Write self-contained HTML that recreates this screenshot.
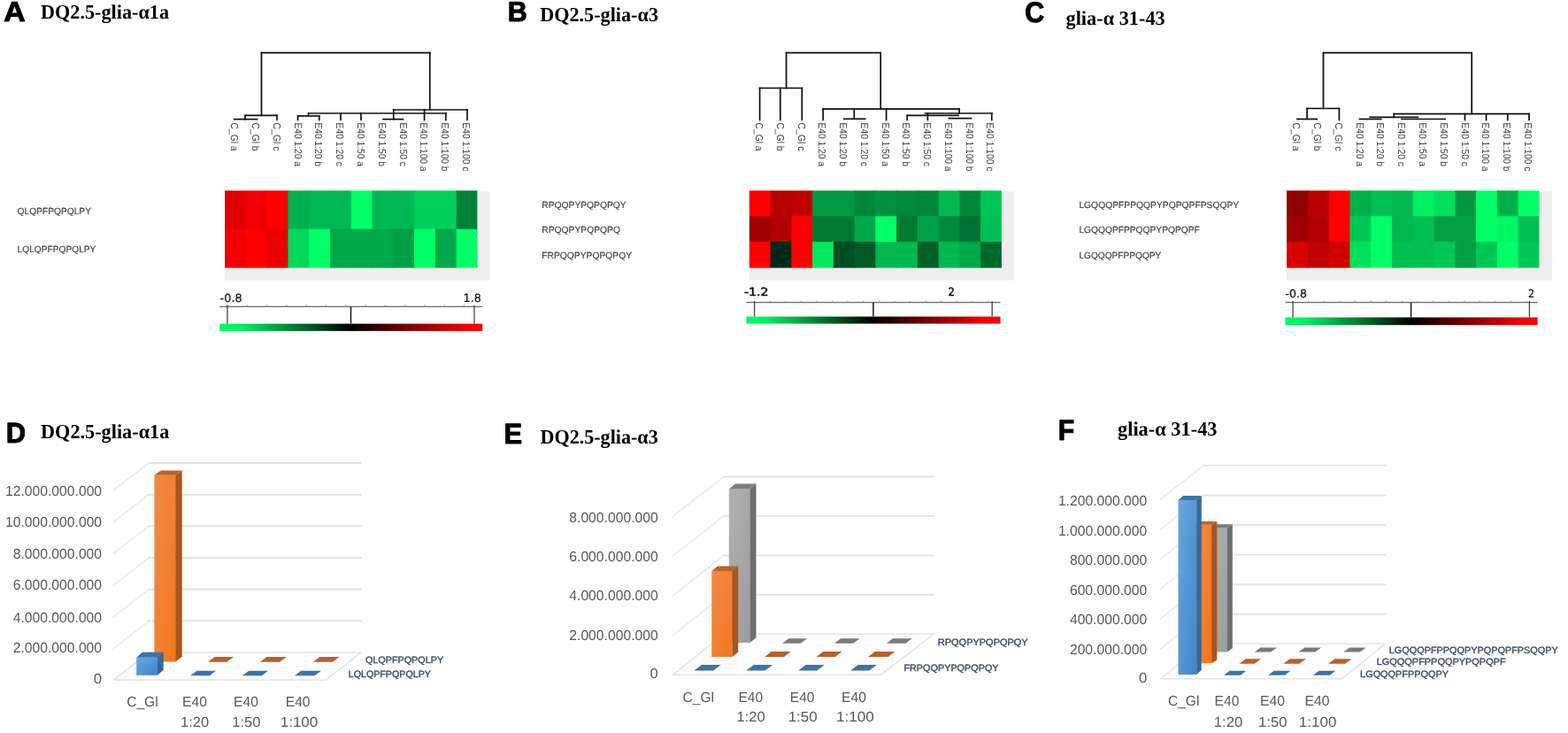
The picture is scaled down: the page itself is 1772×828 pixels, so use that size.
<!DOCTYPE html>
<html lang="en">
<head>
<meta charset="utf-8">
<title>Figure</title>
<style>
html,body{margin:0;padding:0;background:#fff;}
body{width:1772px;height:828px;overflow:hidden;}
svg{display:block;}
</style>
</head>
<body>
<svg width="1772" height="828" viewBox="0 0 1772 828" text-rendering="geometricPrecision">
<defs>
<linearGradient id="gr" x1="0" y1="0" x2="1" y2="0"><stop offset="0" stop-color="#00ff66"/><stop offset="0.08" stop-color="#00f060"/><stop offset="0.5" stop-color="#000"/><stop offset="0.93" stop-color="#f00000"/><stop offset="1" stop-color="#ff0000"/></linearGradient>
<linearGradient id="gb" x1="0" y1="0" x2="1" y2="1"><stop offset="0" stop-color="#6aa6dc"/><stop offset="1" stop-color="#3f86cc"/></linearGradient>
<linearGradient id="go" x1="0" y1="0" x2="1" y2="1"><stop offset="0" stop-color="#f08a4a"/><stop offset="1" stop-color="#f4761c"/></linearGradient>
<linearGradient id="gg" x1="0" y1="0" x2="1" y2="1"><stop offset="0" stop-color="#b2b2b2"/><stop offset="1" stop-color="#9a9c9e"/></linearGradient>
<filter id="soft" x="0" y="0" width="1772" height="828" filterUnits="userSpaceOnUse"><feGaussianBlur stdDeviation="0.65"/></filter>
</defs>
<rect width="1772" height="828" fill="#fff"/>
<g filter="url(#soft)">
<text transform="matrix(0.3376 0 0 0.3171 4.23 24.03)" font-family='"Liberation Sans", sans-serif' font-size="100" font-weight="bold" fill="#000" stroke="#000" stroke-width="3" stroke-linejoin="round">A</text>
<text transform="matrix(0.3055 0 0 0.3171 573.76 24.39)" font-family='"Liberation Sans", sans-serif' font-size="100" font-weight="bold" fill="#000" stroke="#000" stroke-width="3" stroke-linejoin="round">B</text>
<text transform="matrix(0.3044 0 0 0.3271 1158.24 24.63)" font-family='"Liberation Sans", sans-serif' font-size="100" font-weight="bold" fill="#000" stroke="#000" stroke-width="3" stroke-linejoin="round">C</text>
<text transform="matrix(0.3098 0 0 0.322 6.81 500.28)" font-family='"Liberation Sans", sans-serif' font-size="100" font-weight="bold" fill="#000" stroke="#000" stroke-width="3" stroke-linejoin="round">D</text>
<text transform="matrix(0.3095 0 0 0.322 569.38 500.64)" font-family='"Liberation Sans", sans-serif' font-size="100" font-weight="bold" fill="#000" stroke="#000" stroke-width="3" stroke-linejoin="round">E</text>
<text transform="matrix(0.3025 0 0 0.3286 1195.85 496.75)" font-family='"Liberation Sans", sans-serif' font-size="100" font-weight="bold" fill="#000" stroke="#000" stroke-width="3" stroke-linejoin="round">F</text>
<text x="46" y="21.3" font-family='"Liberation Serif", serif' font-size="22.8" fill="#000" font-weight="bold" textLength="145" lengthAdjust="spacingAndGlyphs">DQ2.5-glia-α1a</text>
<text x="610.2" y="24.0" font-family='"Liberation Serif", serif' font-size="22.8" fill="#000" font-weight="bold" textLength="133.8" lengthAdjust="spacingAndGlyphs">DQ2.5-glia-α3</text>
<text x="1204.5" y="28.1" font-family='"Liberation Serif", serif' font-size="22.8" fill="#000" font-weight="bold" textLength="112.2" lengthAdjust="spacingAndGlyphs">glia-α 31-43</text>
<text x="46" y="495.2" font-family='"Liberation Serif", serif' font-size="22.8" fill="#000" font-weight="bold" textLength="145.3" lengthAdjust="spacingAndGlyphs">DQ2.5-glia-α1a</text>
<text x="610.5" y="501.0" font-family='"Liberation Serif", serif' font-size="22.8" fill="#000" font-weight="bold" textLength="133.2" lengthAdjust="spacingAndGlyphs">DQ2.5-glia-α3</text>
<text x="1263" y="492.2" font-family='"Liberation Serif", serif' font-size="22.8" fill="#000" font-weight="bold" textLength="112.5" lengthAdjust="spacingAndGlyphs">glia-α 31-43</text>
<rect x="254.1" y="216.3" width="299.8" height="100.2" fill="#eeeeee"/>
<rect x="254.10" y="215.3" width="24.77" height="44.40" fill="#e00000"/>
<rect x="277.88" y="215.3" width="24.77" height="44.40" fill="#f00000"/>
<rect x="301.65" y="215.3" width="24.77" height="44.40" fill="#ff0000"/>
<rect x="325.42" y="215.3" width="24.77" height="44.40" fill="#00b050"/>
<rect x="349.20" y="215.3" width="24.77" height="44.40" fill="#00b852"/>
<rect x="372.97" y="215.3" width="24.77" height="44.40" fill="#00b852"/>
<rect x="396.75" y="215.3" width="24.77" height="44.40" fill="#00ff66"/>
<rect x="420.52" y="215.3" width="24.77" height="44.40" fill="#00b852"/>
<rect x="444.30" y="215.3" width="24.77" height="44.40" fill="#00b852"/>
<rect x="468.07" y="215.3" width="24.77" height="44.40" fill="#00d05a"/>
<rect x="491.85" y="215.3" width="24.77" height="44.40" fill="#00d05a"/>
<rect x="515.62" y="215.3" width="23.77" height="44.40" fill="#008038"/>
<rect x="254.10" y="258.7" width="24.77" height="43.90" fill="#f00000"/>
<rect x="277.88" y="258.7" width="24.77" height="43.90" fill="#ff0000"/>
<rect x="301.65" y="258.7" width="24.77" height="43.90" fill="#e80000"/>
<rect x="325.42" y="258.7" width="24.77" height="43.90" fill="#00d85c"/>
<rect x="349.20" y="258.7" width="24.77" height="43.90" fill="#00ff66"/>
<rect x="372.97" y="258.7" width="24.77" height="43.90" fill="#00a84a"/>
<rect x="396.75" y="258.7" width="24.77" height="43.90" fill="#00a84a"/>
<rect x="420.52" y="258.7" width="24.77" height="43.90" fill="#00a84a"/>
<rect x="444.30" y="258.7" width="24.77" height="43.90" fill="#00a046"/>
<rect x="468.07" y="258.7" width="24.77" height="43.90" fill="#00ff66"/>
<rect x="491.85" y="258.7" width="24.77" height="43.90" fill="#00a84a"/>
<rect x="515.62" y="258.7" width="23.77" height="43.90" fill="#00ff66"/>
<text x="19.6" y="241.7" font-family='"Liberation Sans", sans-serif' font-size="10.4" fill="#3a3a3a" textLength="83.4" lengthAdjust="spacingAndGlyphs" stroke="#3a3a3a" stroke-width="0.15">QLQPFPQPQLPY</text>
<text x="19.6" y="285.4" font-family='"Liberation Sans", sans-serif' font-size="10.4" fill="#3a3a3a" textLength="88.8" lengthAdjust="spacingAndGlyphs" stroke="#3a3a3a" stroke-width="0.15">LQLQPFPQPQLPY</text>
<text transform="translate(261.3,138.5) rotate(90)" font-family='"Liberation Sans", sans-serif' font-size="11.6" fill="#444" textLength="32" lengthAdjust="spacingAndGlyphs">C_Gl a</text>
<text transform="translate(285.1,138.5) rotate(90)" font-family='"Liberation Sans", sans-serif' font-size="11.6" fill="#444" textLength="32" lengthAdjust="spacingAndGlyphs">C_Gl b</text>
<text transform="translate(308.8,138.5) rotate(90)" font-family='"Liberation Sans", sans-serif' font-size="11.6" fill="#444" textLength="32" lengthAdjust="spacingAndGlyphs">C_Gl c</text>
<text transform="translate(332.6,138.5) rotate(90)" font-family='"Liberation Sans", sans-serif' font-size="11.6" fill="#444" textLength="49.5" lengthAdjust="spacingAndGlyphs">E40 1:20 a</text>
<text transform="translate(356.4,138.5) rotate(90)" font-family='"Liberation Sans", sans-serif' font-size="11.6" fill="#444" textLength="49.5" lengthAdjust="spacingAndGlyphs">E40 1:20 b</text>
<text transform="translate(380.2,138.5) rotate(90)" font-family='"Liberation Sans", sans-serif' font-size="11.6" fill="#444" textLength="49.5" lengthAdjust="spacingAndGlyphs">E40 1:20 c</text>
<text transform="translate(403.9,138.5) rotate(90)" font-family='"Liberation Sans", sans-serif' font-size="11.6" fill="#444" textLength="49.5" lengthAdjust="spacingAndGlyphs">E40 1:50 a</text>
<text transform="translate(427.7,138.5) rotate(90)" font-family='"Liberation Sans", sans-serif' font-size="11.6" fill="#444" textLength="49.5" lengthAdjust="spacingAndGlyphs">E40 1:50 b</text>
<text transform="translate(451.5,138.5) rotate(90)" font-family='"Liberation Sans", sans-serif' font-size="11.6" fill="#444" textLength="49.5" lengthAdjust="spacingAndGlyphs">E40 1:50 c</text>
<text transform="translate(475.3,138.5) rotate(90)" font-family='"Liberation Sans", sans-serif' font-size="11.6" fill="#444" textLength="55" lengthAdjust="spacingAndGlyphs">E40 1:100 a</text>
<text transform="translate(499.0,138.5) rotate(90)" font-family='"Liberation Sans", sans-serif' font-size="11.6" fill="#444" textLength="55" lengthAdjust="spacingAndGlyphs">E40 1:100 b</text>
<text transform="translate(522.8,138.5) rotate(90)" font-family='"Liberation Sans", sans-serif' font-size="11.6" fill="#444" textLength="55" lengthAdjust="spacingAndGlyphs">E40 1:100 c</text>
<g stroke="#111" stroke-width="1.7" stroke-linecap="square">
<line x1="295.5" y1="59.7" x2="485.8" y2="59.7"/>
<line x1="295.5" y1="59.7" x2="295.5" y2="130.4"/>
<line x1="485.8" y1="59.7" x2="485.8" y2="124"/>
<line x1="277" y1="130.4" x2="313" y2="130.4"/>
<line x1="313" y1="130.4" x2="313" y2="135.5"/>
<line x1="277" y1="130.4" x2="277" y2="134.7"/>
<line x1="264.7" y1="134.7" x2="290.6" y2="134.7"/>
<line x1="444.8" y1="124" x2="528" y2="124"/>
<line x1="528" y1="124" x2="528" y2="135.5"/>
<line x1="444.8" y1="124" x2="444.8" y2="134.7"/>
<line x1="433" y1="134.7" x2="455.5" y2="134.7"/>
<line x1="348.6" y1="128" x2="503.8" y2="128"/>
<line x1="385" y1="128" x2="385" y2="135.5"/>
<line x1="408" y1="128" x2="408" y2="135.5"/>
<line x1="479.6" y1="124" x2="479.6" y2="135.5"/>
<line x1="503.8" y1="128" x2="503.8" y2="135.5"/>
<line x1="348.6" y1="128" x2="348.6" y2="131"/>
<line x1="336.6" y1="131" x2="360.8" y2="131"/>
<line x1="336.6" y1="131" x2="336.6" y2="135.5"/>
<line x1="360.8" y1="131" x2="360.8" y2="135.5"/>
</g>
<rect x="248.2" y="365.7" width="297.0" height="8.2" fill="url(#gr)"/>
<line x1="248.2" y1="346.3" x2="545.2" y2="346.3" stroke="#6a6a6a" stroke-width="1.2"/>
<line x1="257" y1="344.3" x2="257" y2="346.3" stroke="#8a8a8a" stroke-width="0.9"/>
<line x1="279.3" y1="344.3" x2="279.3" y2="346.3" stroke="#8a8a8a" stroke-width="0.9"/>
<line x1="301.6" y1="344.3" x2="301.6" y2="346.3" stroke="#8a8a8a" stroke-width="0.9"/>
<line x1="323.9" y1="344.3" x2="323.9" y2="346.3" stroke="#8a8a8a" stroke-width="0.9"/>
<line x1="346.2" y1="344.3" x2="346.2" y2="346.3" stroke="#8a8a8a" stroke-width="0.9"/>
<line x1="368.5" y1="344.3" x2="368.5" y2="346.3" stroke="#8a8a8a" stroke-width="0.9"/>
<line x1="390.8" y1="344.3" x2="390.8" y2="346.3" stroke="#8a8a8a" stroke-width="0.9"/>
<line x1="413.1" y1="344.3" x2="413.1" y2="346.3" stroke="#8a8a8a" stroke-width="0.9"/>
<line x1="435.4" y1="344.3" x2="435.4" y2="346.3" stroke="#8a8a8a" stroke-width="0.9"/>
<line x1="457.7" y1="344.3" x2="457.7" y2="346.3" stroke="#8a8a8a" stroke-width="0.9"/>
<line x1="480.0" y1="344.3" x2="480.0" y2="346.3" stroke="#8a8a8a" stroke-width="0.9"/>
<line x1="502.3" y1="344.3" x2="502.3" y2="346.3" stroke="#8a8a8a" stroke-width="0.9"/>
<line x1="524.6" y1="344.3" x2="524.6" y2="346.3" stroke="#8a8a8a" stroke-width="0.9"/>
<line x1="257" y1="344.8" x2="257" y2="365.7" stroke="#444" stroke-width="1.3"/>
<line x1="396.5" y1="346.3" x2="396.5" y2="365.7" stroke="#222" stroke-width="1.6"/>
<line x1="536" y1="344.8" x2="536" y2="365.7" stroke="#444" stroke-width="1.3"/>
<text x="248.6" y="340.9" font-family='"DejaVu Sans", "Liberation Sans", sans-serif' font-size="12.6" fill="#111" textLength="25.1" lengthAdjust="spacingAndGlyphs" stroke="#111" stroke-width="0.2">-0.8</text>
<text x="523.6" y="340.9" font-family='"DejaVu Sans", "Liberation Sans", sans-serif' font-size="12.6" fill="#111" textLength="20.1" lengthAdjust="spacingAndGlyphs" stroke="#111" stroke-width="0.2">1.8</text>
<rect x="846.8" y="216.3" width="298.9" height="100.2" fill="#eeeeee"/>
<rect x="846.80" y="215.3" width="24.76" height="29.90" fill="#ff0000"/>
<rect x="870.56" y="215.3" width="24.76" height="29.90" fill="#b80000"/>
<rect x="894.32" y="215.3" width="24.76" height="29.90" fill="#c00000"/>
<rect x="918.08" y="215.3" width="24.76" height="29.90" fill="#009a42"/>
<rect x="941.83" y="215.3" width="24.76" height="29.90" fill="#009a42"/>
<rect x="965.59" y="215.3" width="24.76" height="29.90" fill="#008838"/>
<rect x="989.35" y="215.3" width="24.76" height="29.90" fill="#009240"/>
<rect x="1013.11" y="215.3" width="24.76" height="29.90" fill="#008a3a"/>
<rect x="1036.87" y="215.3" width="24.76" height="29.90" fill="#008838"/>
<rect x="1060.62" y="215.3" width="24.76" height="29.90" fill="#00b850"/>
<rect x="1084.38" y="215.3" width="24.76" height="29.90" fill="#008838"/>
<rect x="1108.14" y="215.3" width="23.76" height="29.90" fill="#00c854"/>
<rect x="846.80" y="244.2" width="24.76" height="29.90" fill="#a00000"/>
<rect x="870.56" y="244.2" width="24.76" height="29.90" fill="#b00000"/>
<rect x="894.32" y="244.2" width="24.76" height="29.90" fill="#ff0000"/>
<rect x="918.08" y="244.2" width="24.76" height="29.90" fill="#007a32"/>
<rect x="941.83" y="244.2" width="24.76" height="29.90" fill="#007a32"/>
<rect x="965.59" y="244.2" width="24.76" height="29.90" fill="#00a848"/>
<rect x="989.35" y="244.2" width="24.76" height="29.90" fill="#00ff66"/>
<rect x="1013.11" y="244.2" width="24.76" height="29.90" fill="#007a32"/>
<rect x="1036.87" y="244.2" width="24.76" height="29.90" fill="#00a046"/>
<rect x="1060.62" y="244.2" width="24.76" height="29.90" fill="#008a3a"/>
<rect x="1084.38" y="244.2" width="24.76" height="29.90" fill="#007230"/>
<rect x="1108.14" y="244.2" width="23.76" height="29.90" fill="#00c052"/>
<rect x="846.80" y="273.1" width="24.76" height="29.50" fill="#ff0000"/>
<rect x="870.56" y="273.1" width="24.76" height="29.50" fill="#002a12"/>
<rect x="894.32" y="273.1" width="24.76" height="29.50" fill="#ff0000"/>
<rect x="918.08" y="273.1" width="24.76" height="29.50" fill="#00e860"/>
<rect x="941.83" y="273.1" width="24.76" height="29.50" fill="#005020"/>
<rect x="965.59" y="273.1" width="24.76" height="29.50" fill="#005a26"/>
<rect x="989.35" y="273.1" width="24.76" height="29.50" fill="#00b850"/>
<rect x="1013.11" y="273.1" width="24.76" height="29.50" fill="#00b850"/>
<rect x="1036.87" y="273.1" width="24.76" height="29.50" fill="#006028"/>
<rect x="1060.62" y="273.1" width="24.76" height="29.50" fill="#00b850"/>
<rect x="1084.38" y="273.1" width="24.76" height="29.50" fill="#00a848"/>
<rect x="1108.14" y="273.1" width="23.76" height="29.50" fill="#006a2c"/>
<text x="612.3" y="234.6" font-family='"Liberation Sans", sans-serif' font-size="10.4" fill="#3a3a3a" textLength="95.3" lengthAdjust="spacingAndGlyphs" stroke="#3a3a3a" stroke-width="0.15">RPQQPYPQPQPQY</text>
<text x="612.3" y="263.4" font-family='"Liberation Sans", sans-serif' font-size="10.4" fill="#3a3a3a" textLength="88.7" lengthAdjust="spacingAndGlyphs" stroke="#3a3a3a" stroke-width="0.15">RPQQPYPQPQPQ</text>
<text x="612.3" y="292.2" font-family='"Liberation Sans", sans-serif' font-size="10.4" fill="#3a3a3a" textLength="101.7" lengthAdjust="spacingAndGlyphs" stroke="#3a3a3a" stroke-width="0.15">FRPQQPYPQPQPQY</text>
<text transform="translate(854.0,138.5) rotate(90)" font-family='"Liberation Sans", sans-serif' font-size="11.6" fill="#444" textLength="32" lengthAdjust="spacingAndGlyphs">C_Gl a</text>
<text transform="translate(877.7,138.5) rotate(90)" font-family='"Liberation Sans", sans-serif' font-size="11.6" fill="#444" textLength="32" lengthAdjust="spacingAndGlyphs">C_Gl b</text>
<text transform="translate(901.5,138.5) rotate(90)" font-family='"Liberation Sans", sans-serif' font-size="11.6" fill="#444" textLength="32" lengthAdjust="spacingAndGlyphs">C_Gl c</text>
<text transform="translate(925.3,138.5) rotate(90)" font-family='"Liberation Sans", sans-serif' font-size="11.6" fill="#444" textLength="49.5" lengthAdjust="spacingAndGlyphs">E40 1:20 a</text>
<text transform="translate(949.0,138.5) rotate(90)" font-family='"Liberation Sans", sans-serif' font-size="11.6" fill="#444" textLength="49.5" lengthAdjust="spacingAndGlyphs">E40 1:20 b</text>
<text transform="translate(972.8,138.5) rotate(90)" font-family='"Liberation Sans", sans-serif' font-size="11.6" fill="#444" textLength="49.5" lengthAdjust="spacingAndGlyphs">E40 1:20 c</text>
<text transform="translate(996.5,138.5) rotate(90)" font-family='"Liberation Sans", sans-serif' font-size="11.6" fill="#444" textLength="49.5" lengthAdjust="spacingAndGlyphs">E40 1:50 a</text>
<text transform="translate(1020.3,138.5) rotate(90)" font-family='"Liberation Sans", sans-serif' font-size="11.6" fill="#444" textLength="49.5" lengthAdjust="spacingAndGlyphs">E40 1:50 b</text>
<text transform="translate(1044.0,138.5) rotate(90)" font-family='"Liberation Sans", sans-serif' font-size="11.6" fill="#444" textLength="49.5" lengthAdjust="spacingAndGlyphs">E40 1:50 c</text>
<text transform="translate(1067.8,138.5) rotate(90)" font-family='"Liberation Sans", sans-serif' font-size="11.6" fill="#444" textLength="55" lengthAdjust="spacingAndGlyphs">E40 1:100 a</text>
<text transform="translate(1091.6,138.5) rotate(90)" font-family='"Liberation Sans", sans-serif' font-size="11.6" fill="#444" textLength="55" lengthAdjust="spacingAndGlyphs">E40 1:100 b</text>
<text transform="translate(1115.3,138.5) rotate(90)" font-family='"Liberation Sans", sans-serif' font-size="11.6" fill="#444" textLength="55" lengthAdjust="spacingAndGlyphs">E40 1:100 c</text>
<g stroke="#111" stroke-width="1.7" stroke-linecap="square">
<line x1="888.6" y1="59.7" x2="995.2" y2="59.7"/>
<line x1="888.6" y1="59.7" x2="888.6" y2="99.5"/>
<line x1="995.2" y1="59.7" x2="995.2" y2="123.1"/>
<line x1="858.6" y1="99.5" x2="906.3" y2="99.5"/>
<line x1="858.6" y1="99.5" x2="858.6" y2="135.5"/>
<line x1="881.8" y1="99.5" x2="881.8" y2="135.5"/>
<line x1="906.3" y1="99.5" x2="906.3" y2="135.5"/>
<line x1="930.1" y1="123.1" x2="1084.1" y2="123.1"/>
<line x1="930.1" y1="123.1" x2="930.1" y2="135.5"/>
<line x1="965.3" y1="123.1" x2="965.3" y2="134.3"/>
<line x1="953.7" y1="134.3" x2="977.8" y2="134.3"/>
<line x1="1001.6" y1="123.1" x2="1001.6" y2="135.5"/>
<line x1="1084.1" y1="123.1" x2="1084.1" y2="128"/>
<line x1="1045.5" y1="128" x2="1120.8" y2="128"/>
<line x1="1120.8" y1="128" x2="1120.8" y2="135.5"/>
<line x1="1025.2" y1="130.4" x2="1083" y2="130.4"/>
<line x1="1025.2" y1="130.4" x2="1025.2" y2="135.5"/>
<line x1="1048.4" y1="128" x2="1048.4" y2="135.5"/>
<line x1="1072.5" y1="133.7" x2="1097.6" y2="133.7"/>
</g>
<rect x="843.4" y="357.6" width="287.1" height="8.0" fill="url(#gr)"/>
<line x1="843.4" y1="341.7" x2="1130.5" y2="341.7" stroke="#6a6a6a" stroke-width="1.2"/>
<line x1="852.6" y1="339.7" x2="852.6" y2="341.7" stroke="#8a8a8a" stroke-width="0.9"/>
<line x1="870.2" y1="339.7" x2="870.2" y2="341.7" stroke="#8a8a8a" stroke-width="0.9"/>
<line x1="887.8" y1="339.7" x2="887.8" y2="341.7" stroke="#8a8a8a" stroke-width="0.9"/>
<line x1="905.4" y1="339.7" x2="905.4" y2="341.7" stroke="#8a8a8a" stroke-width="0.9"/>
<line x1="923.0" y1="339.7" x2="923.0" y2="341.7" stroke="#8a8a8a" stroke-width="0.9"/>
<line x1="940.6" y1="339.7" x2="940.6" y2="341.7" stroke="#8a8a8a" stroke-width="0.9"/>
<line x1="958.2" y1="339.7" x2="958.2" y2="341.7" stroke="#8a8a8a" stroke-width="0.9"/>
<line x1="975.8" y1="339.7" x2="975.8" y2="341.7" stroke="#8a8a8a" stroke-width="0.9"/>
<line x1="993.4" y1="339.7" x2="993.4" y2="341.7" stroke="#8a8a8a" stroke-width="0.9"/>
<line x1="1011.0" y1="339.7" x2="1011.0" y2="341.7" stroke="#8a8a8a" stroke-width="0.9"/>
<line x1="1028.6" y1="339.7" x2="1028.6" y2="341.7" stroke="#8a8a8a" stroke-width="0.9"/>
<line x1="1046.2" y1="339.7" x2="1046.2" y2="341.7" stroke="#8a8a8a" stroke-width="0.9"/>
<line x1="1063.8" y1="339.7" x2="1063.8" y2="341.7" stroke="#8a8a8a" stroke-width="0.9"/>
<line x1="1081.4" y1="339.7" x2="1081.4" y2="341.7" stroke="#8a8a8a" stroke-width="0.9"/>
<line x1="1099.0" y1="339.7" x2="1099.0" y2="341.7" stroke="#8a8a8a" stroke-width="0.9"/>
<line x1="1116.6" y1="339.7" x2="1116.6" y2="341.7" stroke="#8a8a8a" stroke-width="0.9"/>
<line x1="852.6" y1="340.2" x2="852.6" y2="357.6" stroke="#444" stroke-width="1.3"/>
<line x1="986.9" y1="341.7" x2="986.9" y2="357.6" stroke="#222" stroke-width="1.6"/>
<line x1="1121.2" y1="340.2" x2="1121.2" y2="357.6" stroke="#444" stroke-width="1.3"/>
<text x="841.0" y="333.8" font-family='"DejaVu Sans", "Liberation Sans", sans-serif' font-size="12.6" fill="#111" textLength="27.6" lengthAdjust="spacingAndGlyphs" stroke="#111" stroke-width="0.5">-1.2</text>
<text x="1071.5" y="333.8" font-family='"DejaVu Sans", "Liberation Sans", sans-serif' font-size="12.6" fill="#111" textLength="7.4" lengthAdjust="spacingAndGlyphs" stroke="#111" stroke-width="0.5">2</text>
<rect x="1454.1" y="216.3" width="299.8" height="100.2" fill="#eeeeee"/>
<rect x="1454.10" y="215.3" width="24.78" height="29.90" fill="#900000"/>
<rect x="1477.88" y="215.3" width="24.78" height="29.90" fill="#b80000"/>
<rect x="1501.65" y="215.3" width="24.78" height="29.90" fill="#ff0000"/>
<rect x="1525.42" y="215.3" width="24.78" height="29.90" fill="#00b04c"/>
<rect x="1549.20" y="215.3" width="24.78" height="29.90" fill="#00c054"/>
<rect x="1572.97" y="215.3" width="24.78" height="29.90" fill="#00b850"/>
<rect x="1596.75" y="215.3" width="24.78" height="29.90" fill="#00f062"/>
<rect x="1620.53" y="215.3" width="24.78" height="29.90" fill="#00e05c"/>
<rect x="1644.30" y="215.3" width="24.78" height="29.90" fill="#009840"/>
<rect x="1668.08" y="215.3" width="24.78" height="29.90" fill="#00ff66"/>
<rect x="1691.85" y="215.3" width="24.78" height="29.90" fill="#00b04c"/>
<rect x="1715.62" y="215.3" width="23.78" height="29.90" fill="#00ff66"/>
<rect x="1454.10" y="244.2" width="24.78" height="29.90" fill="#a00000"/>
<rect x="1477.88" y="244.2" width="24.78" height="29.90" fill="#b00000"/>
<rect x="1501.65" y="244.2" width="24.78" height="29.90" fill="#ff0000"/>
<rect x="1525.42" y="244.2" width="24.78" height="29.90" fill="#00c856"/>
<rect x="1549.20" y="244.2" width="24.78" height="29.90" fill="#00ff66"/>
<rect x="1572.97" y="244.2" width="24.78" height="29.90" fill="#00b850"/>
<rect x="1596.75" y="244.2" width="24.78" height="29.90" fill="#00c054"/>
<rect x="1620.53" y="244.2" width="24.78" height="29.90" fill="#00a044"/>
<rect x="1644.30" y="244.2" width="24.78" height="29.90" fill="#00a044"/>
<rect x="1668.08" y="244.2" width="24.78" height="29.90" fill="#00ff66"/>
<rect x="1691.85" y="244.2" width="24.78" height="29.90" fill="#00f864"/>
<rect x="1715.62" y="244.2" width="23.78" height="29.90" fill="#00c054"/>
<rect x="1454.10" y="273.1" width="24.78" height="29.50" fill="#d80000"/>
<rect x="1477.88" y="273.1" width="24.78" height="29.50" fill="#c00000"/>
<rect x="1501.65" y="273.1" width="24.78" height="29.50" fill="#d00000"/>
<rect x="1525.42" y="273.1" width="24.78" height="29.50" fill="#00e05c"/>
<rect x="1549.20" y="273.1" width="24.78" height="29.50" fill="#00ff66"/>
<rect x="1572.97" y="273.1" width="24.78" height="29.50" fill="#00c052"/>
<rect x="1596.75" y="273.1" width="24.78" height="29.50" fill="#00c052"/>
<rect x="1620.53" y="273.1" width="24.78" height="29.50" fill="#00c856"/>
<rect x="1644.30" y="273.1" width="24.78" height="29.50" fill="#00a044"/>
<rect x="1668.08" y="273.1" width="24.78" height="29.50" fill="#00c856"/>
<rect x="1691.85" y="273.1" width="24.78" height="29.50" fill="#00ff66"/>
<rect x="1715.62" y="273.1" width="23.78" height="29.50" fill="#00c856"/>
<text x="1219.4" y="234.6" font-family='"Liberation Sans", sans-serif' font-size="10.4" fill="#3a3a3a" textLength="180.8" lengthAdjust="spacingAndGlyphs" stroke="#3a3a3a" stroke-width="0.15">LGQQQPFPPQQPYPQPQPFPSQQPY</text>
<text x="1219.4" y="263.4" font-family='"Liberation Sans", sans-serif' font-size="10.4" fill="#3a3a3a" textLength="136.4" lengthAdjust="spacingAndGlyphs" stroke="#3a3a3a" stroke-width="0.15">LGQQQPFPPQQPYPQPQPF</text>
<text x="1219.4" y="292.2" font-family='"Liberation Sans", sans-serif' font-size="10.4" fill="#3a3a3a" textLength="93.0" lengthAdjust="spacingAndGlyphs" stroke="#3a3a3a" stroke-width="0.15">LGQQQPFPPQQPY</text>
<text transform="translate(1461.3,138.5) rotate(90)" font-family='"Liberation Sans", sans-serif' font-size="11.6" fill="#444" textLength="32" lengthAdjust="spacingAndGlyphs">C_Gl a</text>
<text transform="translate(1485.1,138.5) rotate(90)" font-family='"Liberation Sans", sans-serif' font-size="11.6" fill="#444" textLength="32" lengthAdjust="spacingAndGlyphs">C_Gl b</text>
<text transform="translate(1508.8,138.5) rotate(90)" font-family='"Liberation Sans", sans-serif' font-size="11.6" fill="#444" textLength="32" lengthAdjust="spacingAndGlyphs">C_Gl c</text>
<text transform="translate(1532.6,138.5) rotate(90)" font-family='"Liberation Sans", sans-serif' font-size="11.6" fill="#444" textLength="49.5" lengthAdjust="spacingAndGlyphs">E40 1:20 a</text>
<text transform="translate(1556.4,138.5) rotate(90)" font-family='"Liberation Sans", sans-serif' font-size="11.6" fill="#444" textLength="49.5" lengthAdjust="spacingAndGlyphs">E40 1:20 b</text>
<text transform="translate(1580.2,138.5) rotate(90)" font-family='"Liberation Sans", sans-serif' font-size="11.6" fill="#444" textLength="49.5" lengthAdjust="spacingAndGlyphs">E40 1:20 c</text>
<text transform="translate(1603.9,138.5) rotate(90)" font-family='"Liberation Sans", sans-serif' font-size="11.6" fill="#444" textLength="49.5" lengthAdjust="spacingAndGlyphs">E40 1:50 a</text>
<text transform="translate(1627.7,138.5) rotate(90)" font-family='"Liberation Sans", sans-serif' font-size="11.6" fill="#444" textLength="49.5" lengthAdjust="spacingAndGlyphs">E40 1:50 b</text>
<text transform="translate(1651.5,138.5) rotate(90)" font-family='"Liberation Sans", sans-serif' font-size="11.6" fill="#444" textLength="49.5" lengthAdjust="spacingAndGlyphs">E40 1:50 c</text>
<text transform="translate(1675.3,138.5) rotate(90)" font-family='"Liberation Sans", sans-serif' font-size="11.6" fill="#444" textLength="55" lengthAdjust="spacingAndGlyphs">E40 1:100 a</text>
<text transform="translate(1699.0,138.5) rotate(90)" font-family='"Liberation Sans", sans-serif' font-size="11.6" fill="#444" textLength="55" lengthAdjust="spacingAndGlyphs">E40 1:100 b</text>
<text transform="translate(1722.8,138.5) rotate(90)" font-family='"Liberation Sans", sans-serif' font-size="11.6" fill="#444" textLength="55" lengthAdjust="spacingAndGlyphs">E40 1:100 c</text>
<g stroke="#111" stroke-width="1.7" stroke-linecap="square">
<line x1="1495.5" y1="59.7" x2="1663.2" y2="59.7"/>
<line x1="1495.5" y1="59.7" x2="1495.5" y2="122.5"/>
<line x1="1663.2" y1="59.7" x2="1663.2" y2="128.5"/>
<line x1="1477.1" y1="122.5" x2="1513.4" y2="122.5"/>
<line x1="1477.1" y1="122.5" x2="1477.1" y2="134.5"/>
<line x1="1513.4" y1="122.5" x2="1513.4" y2="135.5"/>
<line x1="1466" y1="134.5" x2="1488.3" y2="134.5"/>
<line x1="1575.3" y1="128.7" x2="1728" y2="128.7"/>
<line x1="1728" y1="128.7" x2="1728" y2="135.5"/>
<line x1="1655.5" y1="128.7" x2="1655.5" y2="135.5"/>
<line x1="1679.6" y1="129" x2="1679.6" y2="135.5"/>
<line x1="1703.8" y1="129" x2="1703.8" y2="135.5"/>
<line x1="1575.3" y1="128.7" x2="1575.3" y2="132.4"/>
<line x1="1548.2" y1="132.4" x2="1602.3" y2="132.4"/>
<line x1="1536.6" y1="134.5" x2="1560.8" y2="134.5"/>
<line x1="1584" y1="134.5" x2="1633.2" y2="134.5"/>
</g>
<rect x="1452.4" y="358.5" width="285.2" height="8.7" fill="url(#gr)"/>
<line x1="1452.4" y1="341.7" x2="1737.6" y2="341.7" stroke="#6a6a6a" stroke-width="1.2"/>
<line x1="1461.1" y1="339.7" x2="1461.1" y2="341.7" stroke="#8a8a8a" stroke-width="0.9"/>
<line x1="1478.7" y1="339.7" x2="1478.7" y2="341.7" stroke="#8a8a8a" stroke-width="0.9"/>
<line x1="1496.3" y1="339.7" x2="1496.3" y2="341.7" stroke="#8a8a8a" stroke-width="0.9"/>
<line x1="1513.9" y1="339.7" x2="1513.9" y2="341.7" stroke="#8a8a8a" stroke-width="0.9"/>
<line x1="1531.5" y1="339.7" x2="1531.5" y2="341.7" stroke="#8a8a8a" stroke-width="0.9"/>
<line x1="1549.1" y1="339.7" x2="1549.1" y2="341.7" stroke="#8a8a8a" stroke-width="0.9"/>
<line x1="1566.7" y1="339.7" x2="1566.7" y2="341.7" stroke="#8a8a8a" stroke-width="0.9"/>
<line x1="1584.3" y1="339.7" x2="1584.3" y2="341.7" stroke="#8a8a8a" stroke-width="0.9"/>
<line x1="1601.9" y1="339.7" x2="1601.9" y2="341.7" stroke="#8a8a8a" stroke-width="0.9"/>
<line x1="1619.5" y1="339.7" x2="1619.5" y2="341.7" stroke="#8a8a8a" stroke-width="0.9"/>
<line x1="1637.1" y1="339.7" x2="1637.1" y2="341.7" stroke="#8a8a8a" stroke-width="0.9"/>
<line x1="1654.7" y1="339.7" x2="1654.7" y2="341.7" stroke="#8a8a8a" stroke-width="0.9"/>
<line x1="1672.3" y1="339.7" x2="1672.3" y2="341.7" stroke="#8a8a8a" stroke-width="0.9"/>
<line x1="1689.9" y1="339.7" x2="1689.9" y2="341.7" stroke="#8a8a8a" stroke-width="0.9"/>
<line x1="1707.5" y1="339.7" x2="1707.5" y2="341.7" stroke="#8a8a8a" stroke-width="0.9"/>
<line x1="1725.1" y1="339.7" x2="1725.1" y2="341.7" stroke="#8a8a8a" stroke-width="0.9"/>
<line x1="1461.1" y1="340.2" x2="1461.1" y2="358.5" stroke="#444" stroke-width="1.3"/>
<line x1="1594.6" y1="341.7" x2="1594.6" y2="358.5" stroke="#222" stroke-width="1.6"/>
<line x1="1728.4" y1="340.2" x2="1728.4" y2="358.5" stroke="#444" stroke-width="1.3"/>
<text x="1452.6" y="336.3" font-family='"DejaVu Sans", "Liberation Sans", sans-serif' font-size="12.6" fill="#111" textLength="24.4" lengthAdjust="spacingAndGlyphs" stroke="#111" stroke-width="0.2">-0.8</text>
<text x="1727" y="336.3" font-family='"DejaVu Sans", "Liberation Sans", sans-serif' font-size="12.6" fill="#111" textLength="7.1" lengthAdjust="spacingAndGlyphs" stroke="#111" stroke-width="0.2">2</text>
<g fill="none" stroke-linecap="round">
<line x1="128.5" y1="553.5" x2="168.3" y2="523.0" stroke="#ebebeb" stroke-width="1.6"/>
<line x1="168.3" y1="523.0" x2="408" y2="523.0" stroke="#e3e3e3" stroke-width="1.9"/>
<line x1="128.5" y1="589.3" x2="168.3" y2="558.7" stroke="#ebebeb" stroke-width="1.6"/>
<line x1="168.3" y1="558.7" x2="408" y2="558.7" stroke="#e3e3e3" stroke-width="1.9"/>
<line x1="128.5" y1="625.0" x2="168.3" y2="594.3" stroke="#ebebeb" stroke-width="1.6"/>
<line x1="168.3" y1="594.3" x2="408" y2="594.3" stroke="#e3e3e3" stroke-width="1.9"/>
<line x1="128.5" y1="660.8" x2="168.3" y2="630.0" stroke="#ebebeb" stroke-width="1.6"/>
<line x1="168.3" y1="630.0" x2="408" y2="630.0" stroke="#e3e3e3" stroke-width="1.9"/>
<line x1="128.5" y1="696.6" x2="168.3" y2="665.7" stroke="#ebebeb" stroke-width="1.6"/>
<line x1="168.3" y1="665.7" x2="408" y2="665.7" stroke="#e3e3e3" stroke-width="1.9"/>
<line x1="128.5" y1="732.4" x2="168.3" y2="701.4" stroke="#ebebeb" stroke-width="1.6"/>
<line x1="168.3" y1="701.4" x2="408" y2="701.4" stroke="#e3e3e3" stroke-width="1.9"/>
<polygon points="128.5,768.1 168.3,737.0 408,737.0 368.2,768.1" fill="#fdfdfd" stroke="#e6e6e6" stroke-width="1.6" stroke-linejoin="round"/>
</g>
<text x="6.0" y="559.7" font-family='"Liberation Sans", sans-serif' font-size="16.0" fill="#595959" textLength="109.1" lengthAdjust="spacingAndGlyphs">12.000.000.000</text>
<text x="6.0" y="595.2" font-family='"Liberation Sans", sans-serif' font-size="16.0" fill="#595959" textLength="109.1" lengthAdjust="spacingAndGlyphs">10.000.000.000</text>
<text x="14.7" y="630.6" font-family='"Liberation Sans", sans-serif' font-size="16.0" fill="#595959" textLength="100.4" lengthAdjust="spacingAndGlyphs">8.000.000.000</text>
<text x="14.7" y="666.1" font-family='"Liberation Sans", sans-serif' font-size="16.0" fill="#595959" textLength="100.4" lengthAdjust="spacingAndGlyphs">6.000.000.000</text>
<text x="14.7" y="702.6" font-family='"Liberation Sans", sans-serif' font-size="16.0" fill="#595959" textLength="100.4" lengthAdjust="spacingAndGlyphs">4.000.000.000</text>
<text x="14.7" y="736.8" font-family='"Liberation Sans", sans-serif' font-size="16.0" fill="#595959" textLength="100.4" lengthAdjust="spacingAndGlyphs">2.000.000.000</text>
<text x="105.8" y="772.3" font-family='"Liberation Sans", sans-serif' font-size="16.0" fill="#595959" textLength="9.3" lengthAdjust="spacingAndGlyphs">0</text>
<polygon points="235.0,747.8 256.3,747.8 264.0,742.0 242.7,742.0" fill="#b8602c"/>
<polygon points="293.9,747.8 316.1,747.8 323.8,742.0 301.6,742.0" fill="#b8602c"/>
<polygon points="353.7,747.8 375.9,747.8 383.6,742.0 361.4,742.0" fill="#b8602c"/>
<polygon points="174.4,536.8 198.2,536.8 198.2,747.5 174.4,747.5" fill="url(#go)"/>
<polygon points="198.2,536.8 205.7,531.4 205.7,742.1 198.2,747.5" fill="#a9541d"/>
<polygon points="174.4,536.8 198.2,536.8 205.7,531.4 181.9,531.4" fill="#b9632c"/>
<polygon points="215.1,763.2 236.9,763.2 244.1,757.8 222.3,757.8" fill="#3d73a8"/>
<polygon points="274.0,763.2 295.8,763.2 303.0,757.8 281.2,757.8" fill="#3d73a8"/>
<polygon points="332.9,763.2 355.6,763.2 362.8,757.8 340.1,757.8" fill="#3d73a8"/>
<polygon points="154.2,742.7 178.0,742.7 178.0,762.8 154.2,762.8" fill="url(#gb)"/>
<polygon points="178.0,742.7 184.7,736.7 184.7,756.8 178.0,762.8" fill="#35699c"/>
<polygon points="154.2,742.7 178.0,742.7 184.7,736.7 160.9,736.7" fill="#3f72a8"/>
<text x="143.2" y="798.3" font-family='"Liberation Sans", sans-serif' font-size="16.0" fill="#595959" textLength="35.5" lengthAdjust="spacingAndGlyphs">C_Gl</text>
<text x="206.1" y="798.3" font-family='"Liberation Sans", sans-serif' font-size="16.0" fill="#595959" textLength="27.7" lengthAdjust="spacingAndGlyphs">E40</text>
<text x="204.1" y="821.3" font-family='"Liberation Sans", sans-serif' font-size="16.0" fill="#595959" textLength="32" lengthAdjust="spacingAndGlyphs">1:20</text>
<text x="264.1" y="798.3" font-family='"Liberation Sans", sans-serif' font-size="16.0" fill="#595959" textLength="27.7" lengthAdjust="spacingAndGlyphs">E40</text>
<text x="262.2" y="821.3" font-family='"Liberation Sans", sans-serif' font-size="16.0" fill="#595959" textLength="32.2" lengthAdjust="spacingAndGlyphs">1:50</text>
<text x="322.8" y="798.3" font-family='"Liberation Sans", sans-serif' font-size="16.0" fill="#595959" textLength="27.7" lengthAdjust="spacingAndGlyphs">E40</text>
<text x="316.7" y="821.3" font-family='"Liberation Sans", sans-serif' font-size="16.0" fill="#595959" textLength="42.6" lengthAdjust="spacingAndGlyphs">1:100</text>
<text x="412.9" y="749.4" font-family='"Liberation Sans", sans-serif' font-size="10.6" fill="#3f4c60" textLength="88.2" lengthAdjust="spacingAndGlyphs" stroke="#3f4c60" stroke-width="0.4">QLQPFPQPQLPY</text>
<text x="393.7" y="765.1" font-family='"Liberation Sans", sans-serif' font-size="10.6" fill="#3f4c60" textLength="93.2" lengthAdjust="spacingAndGlyphs" stroke="#3f4c60" stroke-width="0.4">LQLQPFPQPQLPY</text>
<g fill="none" stroke-linecap="round">
<line x1="760.5" y1="583.1" x2="818.1" y2="538.5" stroke="#ebebeb" stroke-width="1.6"/>
<line x1="818.1" y1="538.5" x2="1055.3" y2="538.5" stroke="#e3e3e3" stroke-width="1.9"/>
<line x1="760.5" y1="627.9" x2="818.1" y2="582.9" stroke="#ebebeb" stroke-width="1.6"/>
<line x1="818.1" y1="582.9" x2="1055.3" y2="582.9" stroke="#e3e3e3" stroke-width="1.9"/>
<line x1="760.5" y1="672.8" x2="818.1" y2="627.4" stroke="#ebebeb" stroke-width="1.6"/>
<line x1="818.1" y1="627.4" x2="1055.3" y2="627.4" stroke="#e3e3e3" stroke-width="1.9"/>
<line x1="760.5" y1="717.6" x2="818.1" y2="671.8" stroke="#ebebeb" stroke-width="1.6"/>
<line x1="818.1" y1="671.8" x2="1055.3" y2="671.8" stroke="#e3e3e3" stroke-width="1.9"/>
<polygon points="760.5,762.4 818.1,716.2 1055.3,716.2 995.5,762.4" fill="#fdfdfd" stroke="#e6e6e6" stroke-width="1.6" stroke-linejoin="round"/>
</g>
<text x="643.3" y="589.5" font-family='"Liberation Sans", sans-serif' font-size="16.0" fill="#595959" textLength="100.4" lengthAdjust="spacingAndGlyphs">8.000.000.000</text>
<text x="643.3" y="633.8" font-family='"Liberation Sans", sans-serif' font-size="16.0" fill="#595959" textLength="100.4" lengthAdjust="spacingAndGlyphs">6.000.000.000</text>
<text x="643.3" y="678.2" font-family='"Liberation Sans", sans-serif' font-size="16.0" fill="#595959" textLength="100.4" lengthAdjust="spacingAndGlyphs">4.000.000.000</text>
<text x="643.3" y="722.6" font-family='"Liberation Sans", sans-serif' font-size="16.0" fill="#595959" textLength="100.4" lengthAdjust="spacingAndGlyphs">2.000.000.000</text>
<text x="734.4" y="766.4" font-family='"Liberation Sans", sans-serif' font-size="16.0" fill="#595959" textLength="9.3" lengthAdjust="spacingAndGlyphs">0</text>
<polygon points="884.0,726.7 904.8,726.7 912.1,721.2 891.3,721.2" fill="#7a7a7a"/>
<polygon points="942.9,726.7 964.3,726.7 971.6,721.2 950.2,721.2" fill="#7a7a7a"/>
<polygon points="1001.8,726.7 1023.5,726.7 1030.8,721.2 1009.1,721.2" fill="#7a7a7a"/>
<polygon points="823.8,552.4 847.4,552.4 847.4,726.1 823.8,726.1" fill="url(#gg)"/>
<polygon points="847.4,552.4 854.5,546.6 854.5,720.3 847.4,726.1" fill="#6e6e6e"/>
<polygon points="823.8,552.4 847.4,552.4 854.5,546.6 830.9,546.6" fill="#7d7d7d"/>
<polygon points="864.1,741.9 886.0,741.9 893.7,736.1 871.8,736.1" fill="#b8602c"/>
<polygon points="922.6,741.9 943.9,741.9 951.6,736.1 930.3,736.1" fill="#b8602c"/>
<polygon points="981.0,741.9 1003.7,741.9 1011.4,736.1 988.7,736.1" fill="#b8602c"/>
<polygon points="804.3,645.0 827.5,645.0 827.5,741.9 804.3,741.9" fill="url(#go)"/>
<polygon points="827.5,645.0 834.2,639.6 834.2,736.5 827.5,741.9" fill="#a9541d"/>
<polygon points="804.3,645.0 827.5,645.0 834.2,639.6 811.0,639.6" fill="#b9632c"/>
<polygon points="784.4,757.5 806.1,757.5 814.7,751.0 793.0,751.0" fill="#3d73a8"/>
<polygon points="843.3,757.5 864.6,757.5 873.2,751.0 851.9,751.0" fill="#3d73a8"/>
<polygon points="902.2,757.5 923.1,757.5 931.7,751.0 910.8,751.0" fill="#3d73a8"/>
<polygon points="961.1,757.5 982.4,757.5 991.0,751.0 969.7,751.0" fill="#3d73a8"/>
<text x="771.5" y="792.6" font-family='"Liberation Sans", sans-serif' font-size="16.0" fill="#595959" textLength="35.5" lengthAdjust="spacingAndGlyphs">C_Gl</text>
<text x="834.4" y="792.6" font-family='"Liberation Sans", sans-serif' font-size="16.0" fill="#595959" textLength="27.7" lengthAdjust="spacingAndGlyphs">E40</text>
<text x="832.4" y="815.3" font-family='"Liberation Sans", sans-serif' font-size="16.0" fill="#595959" textLength="32.2" lengthAdjust="spacingAndGlyphs">1:20</text>
<text x="892.8" y="792.6" font-family='"Liberation Sans", sans-serif' font-size="16.0" fill="#595959" textLength="27.7" lengthAdjust="spacingAndGlyphs">E40</text>
<text x="890.7" y="815.3" font-family='"Liberation Sans", sans-serif' font-size="16.0" fill="#595959" textLength="33" lengthAdjust="spacingAndGlyphs">1:50</text>
<text x="951.1" y="792.6" font-family='"Liberation Sans", sans-serif' font-size="16.0" fill="#595959" textLength="27.7" lengthAdjust="spacingAndGlyphs">E40</text>
<text x="944.9" y="815.3" font-family='"Liberation Sans", sans-serif' font-size="16.0" fill="#595959" textLength="42.8" lengthAdjust="spacingAndGlyphs">1:100</text>
<text x="1059.8" y="728.6" font-family='"Liberation Sans", sans-serif' font-size="10.6" fill="#3f4c60" textLength="101.9" lengthAdjust="spacingAndGlyphs" stroke="#3f4c60" stroke-width="0.4">RPQQPYPQPQPQY</text>
<text x="1021.4" y="758.4" font-family='"Liberation Sans", sans-serif' font-size="10.6" fill="#3f4c60" textLength="107.2" lengthAdjust="spacingAndGlyphs" stroke="#3f4c60" stroke-width="0.4">FRPQQPYPQPQPQY</text>
<g fill="none" stroke-linecap="round">
<line x1="1311.3" y1="564.0" x2="1360.5" y2="525.9" stroke="#ebebeb" stroke-width="1.6"/>
<line x1="1360.5" y1="525.9" x2="1565.4" y2="525.9" stroke="#e3e3e3" stroke-width="1.9"/>
<line x1="1311.3" y1="597.8" x2="1360.5" y2="559.5" stroke="#ebebeb" stroke-width="1.6"/>
<line x1="1360.5" y1="559.5" x2="1565.4" y2="559.5" stroke="#e3e3e3" stroke-width="1.9"/>
<line x1="1311.3" y1="631.6" x2="1360.5" y2="593.0" stroke="#ebebeb" stroke-width="1.6"/>
<line x1="1360.5" y1="593.0" x2="1565.4" y2="593.0" stroke="#e3e3e3" stroke-width="1.9"/>
<line x1="1311.3" y1="665.4" x2="1360.5" y2="626.6" stroke="#ebebeb" stroke-width="1.6"/>
<line x1="1360.5" y1="626.6" x2="1565.4" y2="626.6" stroke="#e3e3e3" stroke-width="1.9"/>
<line x1="1311.3" y1="699.2" x2="1360.5" y2="660.2" stroke="#ebebeb" stroke-width="1.6"/>
<line x1="1360.5" y1="660.2" x2="1565.4" y2="660.2" stroke="#e3e3e3" stroke-width="1.9"/>
<line x1="1311.3" y1="733.0" x2="1360.5" y2="693.8" stroke="#ebebeb" stroke-width="1.6"/>
<line x1="1360.5" y1="693.8" x2="1565.4" y2="693.8" stroke="#e3e3e3" stroke-width="1.9"/>
<polygon points="1311.3,766.8 1360.5,727.3 1565.4,727.3 1516.5,766.8" fill="#fdfdfd" stroke="#e6e6e6" stroke-width="1.6" stroke-linejoin="round"/>
</g>
<text x="1195.9" y="570.9" font-family='"Liberation Sans", sans-serif' font-size="16.0" fill="#595959" textLength="100.4" lengthAdjust="spacingAndGlyphs">1.200.000.000</text>
<text x="1195.9" y="604.5" font-family='"Liberation Sans", sans-serif' font-size="16.0" fill="#595959" textLength="100.4" lengthAdjust="spacingAndGlyphs">1.000.000.000</text>
<text x="1208.9" y="638.1" font-family='"Liberation Sans", sans-serif' font-size="16.0" fill="#595959" textLength="87.4" lengthAdjust="spacingAndGlyphs">800.000.000</text>
<text x="1208.9" y="671.7" font-family='"Liberation Sans", sans-serif' font-size="16.0" fill="#595959" textLength="87.4" lengthAdjust="spacingAndGlyphs">600.000.000</text>
<text x="1208.9" y="705.3" font-family='"Liberation Sans", sans-serif' font-size="16.0" fill="#595959" textLength="87.4" lengthAdjust="spacingAndGlyphs">400.000.000</text>
<text x="1208.9" y="738.5" font-family='"Liberation Sans", sans-serif' font-size="16.0" fill="#595959" textLength="87.4" lengthAdjust="spacingAndGlyphs">200.000.000</text>
<text x="1287.0" y="771.2" font-family='"Liberation Sans", sans-serif' font-size="16.0" fill="#595959" textLength="9.3" lengthAdjust="spacingAndGlyphs">0</text>
<polygon points="1417.8,736.6 1436.3,736.6 1443.1,731.5 1424.6,731.5" fill="#7a7a7a"/>
<polygon points="1467.6,736.6 1486.2,736.6 1493.0,731.5 1474.4,731.5" fill="#7a7a7a"/>
<polygon points="1518.3,736.6 1536.9,736.6 1543.7,731.5 1525.1,731.5" fill="#7a7a7a"/>
<polygon points="1367.0,596.6 1386.6,596.6 1386.6,736.6 1367.0,736.6" fill="url(#gg)"/>
<polygon points="1386.6,596.6 1392.8,592.2 1392.8,732.2 1386.6,736.6" fill="#6e6e6e"/>
<polygon points="1367.0,596.6 1386.6,596.6 1392.8,592.2 1373.2,592.2" fill="#7d7d7d"/>
<polygon points="1400.6,749.7 1417.7,749.7 1425.0,744.2 1407.9,744.2" fill="#b8602c"/>
<polygon points="1450.4,749.7 1468.5,749.7 1475.8,744.2 1457.7,744.2" fill="#b8602c"/>
<polygon points="1501.1,749.7 1520.1,749.7 1527.4,744.2 1508.4,744.2" fill="#b8602c"/>
<polygon points="1349.6,592.8 1369.2,592.8 1369.2,749.3 1349.6,749.3" fill="url(#go)"/>
<polygon points="1369.2,592.8 1375.3,588.9 1375.3,745.4 1369.2,749.3" fill="#a9541d"/>
<polygon points="1349.6,592.8 1369.2,592.8 1375.3,588.9 1355.7,588.9" fill="#b9632c"/>
<polygon points="1383.0,762.7 1401.9,762.7 1408.4,757.8 1389.5,757.8" fill="#3d73a8"/>
<polygon points="1433.2,762.7 1452.0,762.7 1458.5,757.8 1439.7,757.8" fill="#3d73a8"/>
<polygon points="1483.9,762.7 1502.8,762.7 1509.3,757.8 1490.4,757.8" fill="#3d73a8"/>
<polygon points="1331.5,565.3 1352.2,565.3 1352.2,762.0 1331.5,762.0" fill="url(#gb)"/>
<polygon points="1352.2,565.3 1357.8,560.1 1357.8,756.8 1352.2,762.0" fill="#35699c"/>
<polygon points="1331.5,565.3 1352.2,565.3 1357.8,560.1 1337.1,560.1" fill="#3f72a8"/>
<text x="1320.0" y="796.6" font-family='"Liberation Sans", sans-serif' font-size="16.0" fill="#595959" textLength="35.4" lengthAdjust="spacingAndGlyphs">C_Gl</text>
<text x="1372.6" y="796.6" font-family='"Liberation Sans", sans-serif' font-size="16.0" fill="#595959" textLength="28" lengthAdjust="spacingAndGlyphs">E40</text>
<text x="1371.8" y="820.5" font-family='"Liberation Sans", sans-serif' font-size="16.0" fill="#595959" textLength="32.5" lengthAdjust="spacingAndGlyphs">1:20</text>
<text x="1424.0" y="796.6" font-family='"Liberation Sans", sans-serif' font-size="16.0" fill="#595959" textLength="28" lengthAdjust="spacingAndGlyphs">E40</text>
<text x="1422.0" y="820.5" font-family='"Liberation Sans", sans-serif' font-size="16.0" fill="#595959" textLength="32.5" lengthAdjust="spacingAndGlyphs">1:50</text>
<text x="1474.5" y="796.6" font-family='"Liberation Sans", sans-serif' font-size="16.0" fill="#595959" textLength="28" lengthAdjust="spacingAndGlyphs">E40</text>
<text x="1467.8" y="820.5" font-family='"Liberation Sans", sans-serif' font-size="16.0" fill="#595959" textLength="42.6" lengthAdjust="spacingAndGlyphs">1:100</text>
<text x="1569.8" y="738" font-family='"Liberation Sans", sans-serif' font-size="10.6" fill="#3f4c60" textLength="191" lengthAdjust="spacingAndGlyphs" stroke="#3f4c60" stroke-width="0.4">LGQQQPFPPQQPYPQPQPFPSQQPY</text>
<text x="1555.7" y="751.3" font-family='"Liberation Sans", sans-serif' font-size="10.6" fill="#3f4c60" textLength="146" lengthAdjust="spacingAndGlyphs" stroke="#3f4c60" stroke-width="0.4">LGQQQPFPPQQPYPQPQPF</text>
<text x="1537.1" y="764.6" font-family='"Liberation Sans", sans-serif' font-size="10.6" fill="#3f4c60" textLength="99.9" lengthAdjust="spacingAndGlyphs" stroke="#3f4c60" stroke-width="0.4">LGQQQPFPPQQPY</text>
</g>
</svg>
</body>
</html>
